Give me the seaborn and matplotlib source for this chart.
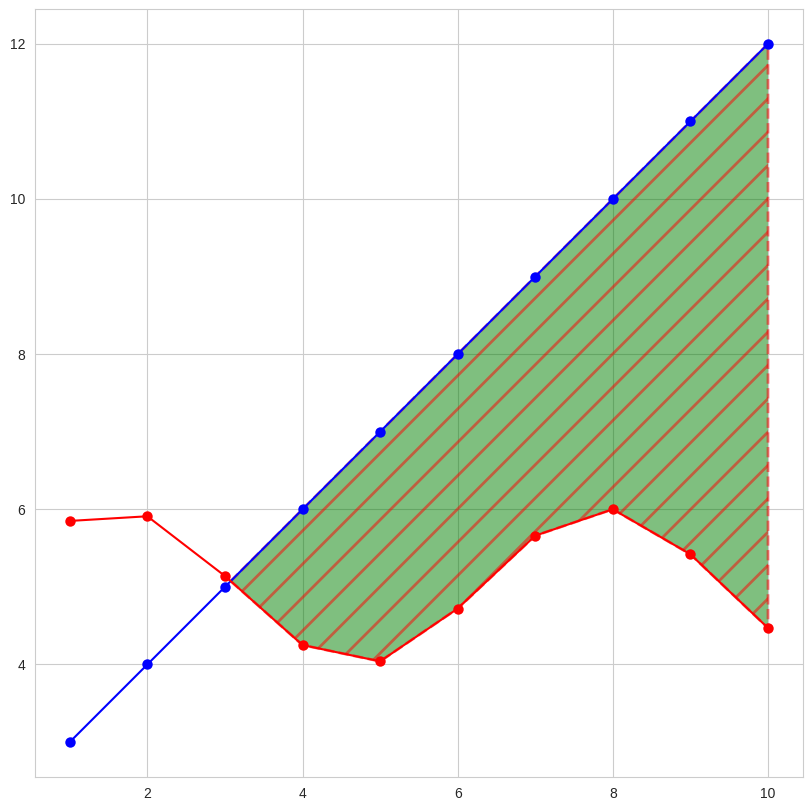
import numpy as np
import matplotlib
matplotlib.use("Agg")
import matplotlib.pyplot as plt
import seaborn as sns

x = np.arange(1, 11)
y_blue = [3, 4, 5, 6, 7, 8, 9, 10, 11, 12]
y_red = [5.85, 5.91, 5.14, 4.25, 4.04, 4.72, 5.66, 6.0, 5.42, 4.47]

sns.set_style("whitegrid")
plt.rcParams["font.family"] = ["Liberation Sans", "DejaVu Sans"]
plt.rcParams["hatch.linewidth"] = 2.0
fig, ax = plt.subplots(figsize=(8.11, 8.11), dpi=100)

sns.lineplot(x=x, y=y_blue, ax=ax, color="blue", marker="o", markersize=7.5,
             markeredgewidth=0, linewidth=1.5)
sns.lineplot(x=x, y=y_red, ax=ax, color="red", marker="o", markersize=7.5,
             markeredgewidth=0, linewidth=1.5)

yb = np.array(y_blue)
yr = np.array(y_red)
ax.fill_between(x, yb, yr, where=yb > yr, interpolate=True, color="green",
                alpha=0.5, hatch="/", edgecolor="red", linestyle="--",
                linewidth=2)

fig.subplots_adjust(left=0.043, right=0.99, top=0.989, bottom=0.042)
fig.savefig("out.png", dpi=100)
